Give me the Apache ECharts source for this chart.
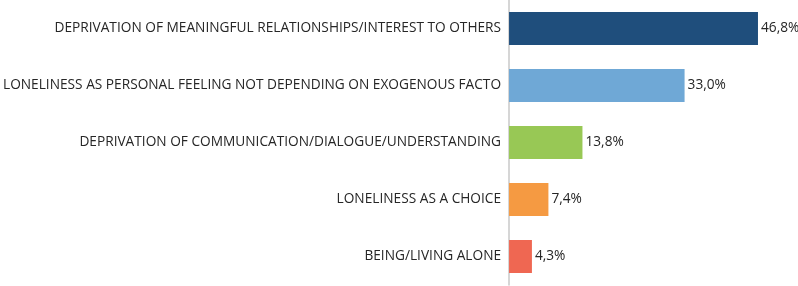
<!DOCTYPE html>
<html>
<head>
<meta charset="utf-8">
<script src="https://cdn.jsdelivr.net/npm/echarts@6/dist/echarts.min.js"></script>
<style>
html, body { margin: 0; padding: 0; background: #fff; }
#chart { width: 798px; height: 286px; }
</style>
</head>
<body>
<div id="chart"></div>
<script>
// top to bottom, as in the picture
var categories = [
    'DEPRIVATION OF MEANINGFUL RELATIONSHIPS/INTEREST TO OTHERS',
    'LONELINESS AS PERSONAL FEELING NOT DEPENDING ON EXOGENOUS FACTO',
    'DEPRIVATION OF COMMUNICATION/DIALOGUE/UNDERSTANDING',
    'LONELINESS AS A CHOICE',
    'BEING/LIVING ALONE'
];
var values = [46.8, 33.0, 13.8, 7.4, 4.3];
var colors = ['#1f4e7c', '#6fa8d6', '#98c855', '#f59a42', '#ef6752'];

var font = '"Open Sans", "Noto Sans", sans-serif';

var chart = echarts.init(document.getElementById('chart'));

var option = {
    animation: false,
    grid: {
        left: 508,
        top: 0,
        width: 267,
        height: 285
    },
    xAxis: {
        type: 'value',
        min: 0,
        max: 50,
        show: false
    },
    yAxis: {
        type: 'category',
        inverse: true,
        data: categories,
        axisTick: { show: false },
        axisLine: {
            show: true,
            lineStyle: { color: '#c8c8c8', width: 1.5 }
        },
        axisLabel: {
            margin: 8,
            color: '#262626',
            fontSize: 13.7,
            fontFamily: font
        },
        splitLine: { show: false }
    },
    series: [{
        type: 'bar',
        barWidth: '58%',
        data: values.map(function (v, i) {
            return { value: v, itemStyle: { color: colors[i] } };
        }),
        label: {
            show: true,
            position: 'right',
            distance: 3,
            color: '#262626',
            fontSize: 13.7,
            fontFamily: font,
            formatter: function (p) {
                return p.value.toFixed(1).replace('.', ',') + '%';
            }
        }
    }]
};

chart.setOption(option);
</script>
</body>
</html>
